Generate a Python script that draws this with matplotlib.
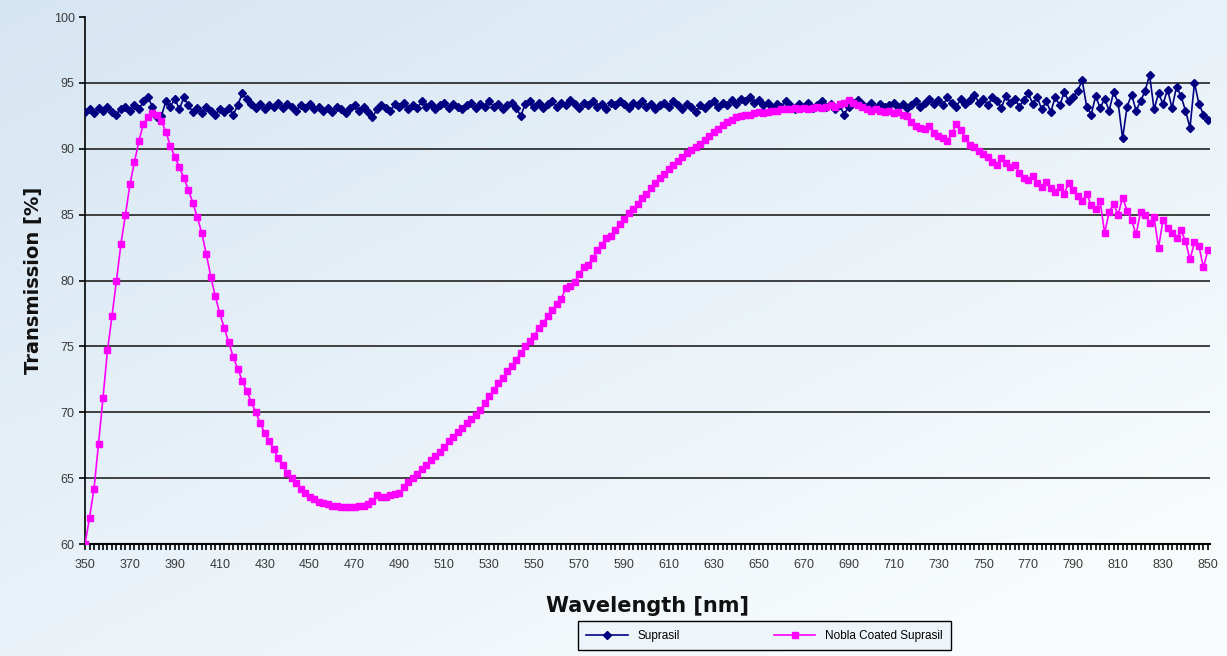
import numpy as np
import matplotlib
matplotlib.use("Agg")
import matplotlib.pyplot as plt
from matplotlib.ticker import MultipleLocator

plt.rcParams["font.family"] = ["Liberation Sans", "DejaVu Sans"]

# wavelength grid, 2 nm steps
wavelength = np.arange(350, 851, 2)

suprasil = [
    92.8, 93.0, 92.7, 93.1, 92.9, 93.2, 92.8, 92.6, 93.0, 93.2,
    92.9, 93.3, 93.0, 93.6, 93.9, 93.2, 92.4, 92.5, 93.6, 93.2,
    93.8, 93.0, 93.9, 93.3, 92.8, 93.1, 92.7, 93.2, 92.9, 92.6,
    93.0, 92.8, 93.1, 92.6, 93.3, 94.2, 93.8, 93.4, 93.1, 93.4,
    93.0, 93.3, 93.2, 93.5, 93.1, 93.4, 93.2, 92.9, 93.3, 93.1,
    93.4, 93.0, 93.2, 92.9, 93.1, 92.8, 93.2, 93.0, 92.7, 93.1,
    93.3, 92.9, 93.2, 92.8, 92.4, 93.0, 93.3, 93.1, 92.9, 93.4,
    93.2, 93.5, 93.0, 93.3, 93.1, 93.6, 93.2, 93.4, 93.0, 93.3,
    93.5, 93.1, 93.4, 93.2, 93.0, 93.3, 93.5, 93.1, 93.4, 93.2,
    93.6, 93.2, 93.4, 93.0, 93.3, 93.5, 93.1, 92.5, 93.4, 93.6,
    93.2, 93.5, 93.1, 93.4, 93.6, 93.2, 93.5, 93.3, 93.7, 93.4,
    93.1, 93.5, 93.3, 93.6, 93.2, 93.4, 93.0, 93.5, 93.3, 93.6,
    93.4, 93.1, 93.5, 93.3, 93.6, 93.2, 93.4, 93.0, 93.3, 93.5,
    93.2, 93.6, 93.3, 93.0, 93.4, 93.2, 92.8, 93.3, 93.1, 93.4,
    93.6, 93.2, 93.5, 93.3, 93.7, 93.4, 93.8, 93.6, 93.9, 93.5,
    93.7, 93.3, 93.5, 93.1, 93.4, 93.2, 93.6, 93.3, 93.0, 93.4,
    93.2, 93.5, 93.1, 93.3, 93.6, 93.2, 93.4, 93.0, 93.3, 92.6,
    93.2, 93.5, 93.7, 93.4, 93.2, 93.5, 93.1, 93.4, 93.2, 93.3,
    93.5, 93.2, 93.4, 93.1, 93.3, 93.6, 93.2, 93.5, 93.8, 93.4,
    93.7, 93.3, 93.9, 93.5, 93.2, 93.8, 93.4, 93.7, 94.1, 93.5,
    93.8, 93.3, 93.9, 93.6, 93.1, 94.0, 93.5, 93.8, 93.2, 93.7,
    94.2, 93.4, 93.9, 93.0, 93.6, 92.8, 93.9, 93.3, 94.3, 93.6,
    93.9, 94.4, 95.2, 93.2, 92.6, 94.0, 93.1, 93.8, 92.9, 94.3,
    93.5, 90.8, 93.2, 94.1, 92.9, 93.6, 94.4, 95.6, 93.0, 94.2,
    93.4, 94.5, 93.1, 94.7, 94.0, 92.9, 91.6, 95.0, 93.4, 92.6,
    92.2,
]

nobla_coated = [
    60.0, 62.0, 64.2, 67.6, 71.1, 74.7, 77.3, 80.0, 82.8, 85.0,
    87.3, 89.0, 90.6, 91.9, 92.4, 92.7, 92.6, 92.1, 91.3, 90.2,
    89.4, 88.6, 87.8, 86.9, 85.9, 84.8, 83.6, 82.0, 80.3, 78.8,
    77.5, 76.4, 75.3, 74.2, 73.3, 72.4, 71.6, 70.8, 70.0, 69.2,
    68.4, 67.8, 67.2, 66.5, 66.0, 65.4, 65.0, 64.6, 64.2, 63.9,
    63.6, 63.4, 63.2, 63.1, 63.0, 62.9, 62.9, 62.8, 62.8, 62.8,
    62.8, 62.9, 62.9, 63.0, 63.3, 63.7, 63.6, 63.6, 63.7, 63.8,
    63.9, 64.3, 64.7, 65.0, 65.3, 65.7, 66.0, 66.4, 66.7, 67.0,
    67.4, 67.8, 68.1, 68.5, 68.8, 69.2, 69.5, 69.8, 70.2, 70.7,
    71.2, 71.7, 72.2, 72.6, 73.1, 73.5, 74.0, 74.5, 75.0, 75.4,
    75.8, 76.4, 76.8, 77.3, 77.8, 78.2, 78.6, 79.4, 79.6, 79.9,
    80.5, 81.0, 81.2, 81.7, 82.3, 82.7, 83.2, 83.4, 83.8, 84.3,
    84.7, 85.1, 85.4, 85.8, 86.3, 86.6, 87.0, 87.4, 87.8, 88.1,
    88.5, 88.8, 89.1, 89.4, 89.7, 89.9, 90.1, 90.4, 90.7, 91.0,
    91.3, 91.5, 91.8, 92.0, 92.2, 92.4, 92.5, 92.6, 92.6, 92.7,
    92.8, 92.7, 92.8, 92.9, 92.9, 93.0, 93.0, 93.0, 93.1, 93.0,
    93.1, 93.0, 93.1, 93.2, 93.1, 93.2, 93.3, 93.2, 93.4, 93.5,
    93.7, 93.5, 93.3, 93.2, 93.0, 92.9, 93.0, 92.9, 92.8, 92.9,
    92.7, 92.8, 92.6, 92.5, 92.0, 91.7, 91.6, 91.5, 91.7, 91.2,
    91.0, 90.8, 90.6, 91.2, 91.9, 91.4, 90.8, 90.3, 90.1, 89.8,
    89.6, 89.4, 89.0, 88.8, 89.3, 88.9, 88.6, 88.8, 88.2, 87.8,
    87.6, 87.9, 87.4, 87.1, 87.5, 87.0, 86.7, 87.1, 86.6, 87.4,
    86.9, 86.4, 86.0, 86.6, 85.7, 85.4, 86.0, 83.6, 85.2, 85.8,
    85.0, 86.3, 85.3, 84.6, 83.5, 85.2, 85.0, 84.4, 84.8, 82.5,
    84.6, 84.0, 83.6, 83.2, 83.8, 83.0, 81.6, 82.9, 82.6, 81.0,
    82.3,
]

x_ticks = list(range(350, 851, 20))
y_ticks = [60, 65, 70, 75, 80, 85, 90, 95, 100]

fig = plt.figure(figsize=(12.27, 6.56), dpi=100)

# light blue gradient backdrop
bg = fig.add_axes([0, 0, 1, 1], zorder=-10)
gx, gy = np.meshgrid(np.linspace(0, 1, 300), np.linspace(0, 1, 160))
t = np.clip(0.55 * gx + 0.6 * (1 - gy), 0, 1)
top = np.array([0.97, 0.985, 0.99])
low = np.array([0.84, 0.90, 0.95])
img = low[None, None, :] * (1 - t[..., None]) + top[None, None, :] * t[..., None]
bg.imshow(img, aspect="auto", extent=[0, 1, 0, 1], origin="lower")
bg.axis("off")

ax = fig.add_axes([0.0693, 0.1707, 0.917, 0.8033])
ax.set_facecolor("none")

ax.plot(wavelength, suprasil, color="#000080", marker="D", markersize=4,
        linewidth=1.2, label="Suprasil", zorder=3)
ax.plot(wavelength, nobla_coated, color="#ff00ff", marker="s", markersize=5,
        linewidth=1.2, label="Nobla Coated Suprasil", zorder=4)

ax.set_xlim(350, 851)
ax.set_ylim(60, 100)
ax.set_xticks(x_ticks)
ax.set_yticks(y_ticks)
ax.xaxis.set_minor_locator(MultipleLocator(2))
ax.tick_params(axis="both", which="major", labelsize=9, labelcolor="#3a3a3a",
               length=4, width=1.2, color="black", direction="out")
ax.tick_params(axis="x", which="minor", length=4, width=1.2, color="black")
ax.tick_params(axis="x", pad=7)

for y in y_ticks[1:-1]:
    ax.axhline(y, color="#222222", linewidth=1.2, zorder=1)

for side in ["top", "right"]:
    ax.spines[side].set_visible(False)
ax.spines["left"].set_linewidth(1.2)
ax.spines["bottom"].set_linewidth(1.5)

ax.set_xlabel("Wavelength [nm]", fontsize=15, fontweight="bold", labelpad=18,
              family=["DejaVu Sans"], color="#111111")
ax.set_ylabel("Transmission [%]", fontsize=14, fontweight="bold", labelpad=8,
              family=["DejaVu Sans"], color="#111111")

leg = fig.legend(loc="center", bbox_to_anchor=(0.623, 0.031), ncol=2, fontsize=8.5,
                 frameon=True, fancybox=False, edgecolor="black",
                 facecolor="#eef5fa", framealpha=1, handlelength=3.5,
                 columnspacing=8, borderpad=0.7)
leg.get_frame().set_linewidth(1.0)

fig.savefig("out.png", dpi=100)
